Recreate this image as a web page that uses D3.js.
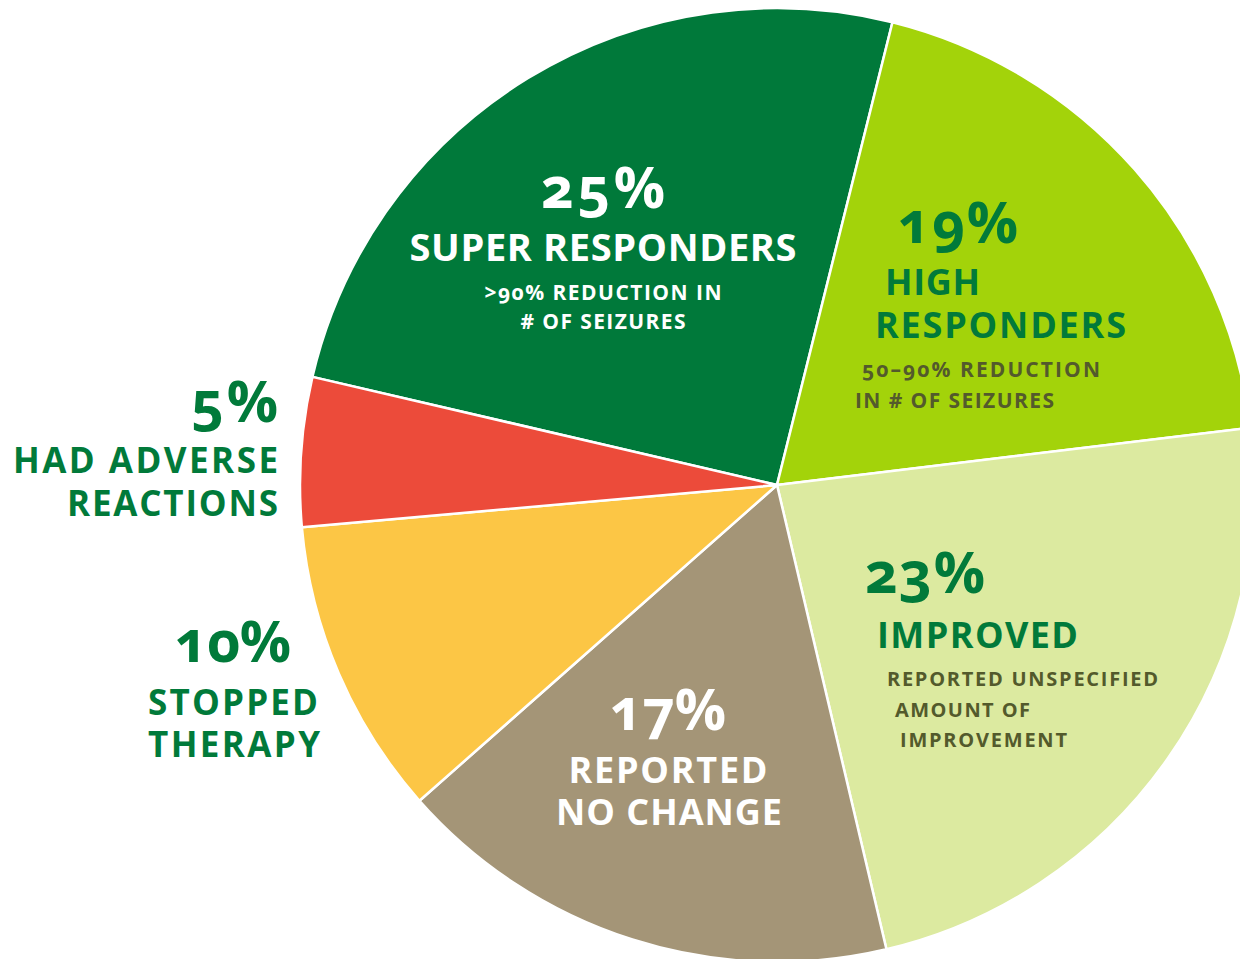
<!DOCTYPE html>
<html>
<head>
<meta charset="utf-8">
<script src="https://cdn.jsdelivr.net/npm/d3@7"></script>
<style>
  html, body { margin: 0; padding: 0; background: #ffffff; }
  svg { display: block; }
  text { font-family: "Open Sans", "Noto Sans", sans-serif; font-weight: 700; font-variant-numeric: oldstyle-nums; }
</style>
</head>
<body>
<svg id="chart" width="1240" height="959"></svg>
<script>
// Data
const categories = ["Super responders", "High responders", "Improved", "Reported no change", "Stopped therapy", "Had adverse reactions"];
const values = [25, 19, 23, 17, 10, 5];
const colors = ["#00793A", "#A3D30A", "#DCEAA0", "#A49577", "#FCC645", "#EC4B3A"];
const pctLabels = ["25%", "19%", "23%", "17%", "10%", "5%"];
const titleLines = [["SUPER RESPONDERS"], ["HIGH", "RESPONDERS"], ["IMPROVED"], ["REPORTED", "NO CHANGE"], ["STOPPED", "THERAPY"], ["HAD ADVERSE", "REACTIONS"]];
const noteLines = [[">90% REDUCTION IN", "# OF SEIZURES"], ["50–90% REDUCTION", "IN # OF SEIZURES"], ["REPORTED UNSPECIFIED", "AMOUNT OF", "IMPROVEMENT"], [], [], []];

const svg = d3.select("#chart");
const cx = 777, cy = 485, R = 477;
const startDeg = -76.9;

const pie = d3.pie().sort(null).value(d => d)
  .startAngle(startDeg * Math.PI / 180)
  .endAngle((startDeg + 360) * Math.PI / 180);
const arc = d3.arc().innerRadius(0).outerRadius(R);

const g = svg.append("g").attr("transform", `translate(${cx},${cy})`);
g.selectAll("path").data(pie(values)).join("path")
  .attr("d", arc)
  .attr("fill", (d, i) => colors[i])
  .attr("stroke", "#ffffff")
  .attr("stroke-width", 2.5)
  .attr("stroke-linejoin", "round");

const GREEN = "#017A3A", OLIVE = "#535A2C", WHITE = "#ffffff";

// label layout: [x, baseline, font-size, width]
const layout = [
  { anchor: "middle", color: WHITE, noteColor: WHITE,
    pct: [603, 208, 57, 124], titles: [[603, 261, 38, 387]], notes: [[603, 300, 21, 237], [603, 329, 21, 165]] },
  { anchor: "start", color: GREEN, noteColor: OLIVE,
    pct: [898, 243, 57, 120], titles: [[885, 295, 36, 95], [875, 338, 36, 251]], notes: [[862, 377, 21, 238], [855, 408, 21, 199]] },
  { anchor: "start", color: GREEN, noteColor: OLIVE,
    pct: [865, 593, 57, 120], titles: [[877, 648, 36, 201]], notes: [[887, 686, 20, 271], [895, 717, 20, 135], [900, 747, 20, 167]] },
  { anchor: "middle", color: WHITE, noteColor: WHITE,
    pct: [668, 730, 57, 116], titles: [[668, 783, 36, 199], [669, 825, 36, 226]], notes: [] },
  { anchor: "middle", color: GREEN, noteColor: GREEN,
    pct: [233, 662, 57, 116], titles: [[233, 715, 35, 170], [234, 757, 35, 172]], notes: [] },
  { anchor: "end", color: GREEN, noteColor: GREEN,
    pct: [278, 422, 57, 87], titles: [[278, 473, 35, 265], [278, 516, 35, 211]], notes: [] }
];

const labels = svg.append("g").attr("class", "labels");
layout.forEach((L, i) => {
  const grp = labels.append("g");
  grp.append("text")
    .attr("x", L.pct[0]).attr("y", L.pct[1])
    .attr("text-anchor", L.anchor)
    .attr("font-size", L.pct[2])
    .attr("fill", L.color)
    .attr("textLength", L.pct[3]).attr("lengthAdjust", "spacing")
    .text(pctLabels[i]);
  titleLines[i].forEach((t, j) => {
    const p = L.titles[j];
    grp.append("text")
      .attr("x", p[0]).attr("y", p[1])
      .attr("text-anchor", L.anchor)
      .attr("font-size", p[2])
      .attr("fill", L.color)
      .attr("textLength", p[3]).attr("lengthAdjust", "spacing")
      .text(t);
  });
  noteLines[i].forEach((t, j) => {
    const p = L.notes[j];
    grp.append("text")
      .attr("x", p[0]).attr("y", p[1])
      .attr("text-anchor", L.anchor)
      .attr("font-size", p[2])
      .attr("fill", L.noteColor)
      .attr("textLength", p[3]).attr("lengthAdjust", "spacing")
      .text(t);
  });
});
</script>
</body>
</html>
